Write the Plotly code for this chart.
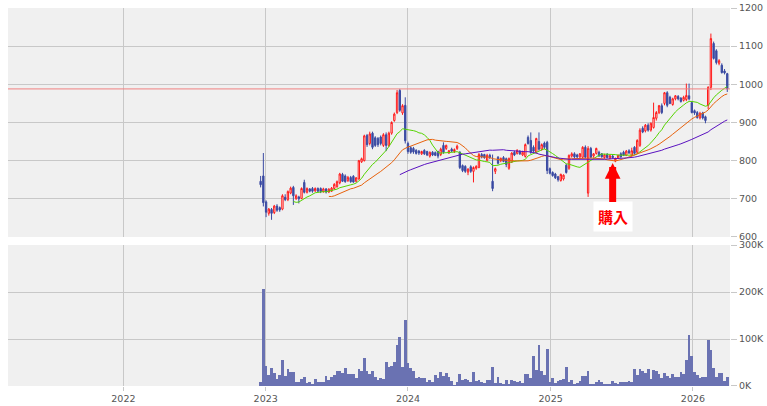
import pandas as pd
import plotly.graph_objects as go
from plotly.subplots import make_subplots

start_date = "2022-12-19"

opens = [
    746, 760, 692, 662, 672, 664, 681, 677, 673, 704,
    698, 715, 730, 701, 705, 701, 743, 717, 726, 727,
    721, 727, 727, 719, 726, 718, 720, 727, 732, 742,
    764, 760, 748, 756, 759, 746, 752, 797, 800, 866,
    845, 872, 860, 858, 862, 840, 868, 840, 872, 905,
    926, 984, 925, 945, 845, 834, 832, 827, 825, 818,
    827, 824, 812, 822, 821, 824, 816, 840, 832, 820,
    830, 824, 832, 822, 787, 785, 770, 784, 772, 780,
    782, 816, 816, 801, 814, 746, 772, 809, 800, 808,
    805, 780, 796, 822, 819, 824, 815, 811, 861, 853,
    835, 822, 850, 830, 846, 848, 779, 769, 765, 758,
    748, 752, 788, 780, 812, 818, 815, 810, 809, 835,
    715, 832, 812, 819, 822, 818, 808, 816, 806, 812,
    799, 806, 818, 822, 814, 826, 814, 835, 822, 840,
    885, 878, 893, 880, 887, 911, 926, 944, 950, 978,
    966, 947, 962, 968, 964, 958, 960, 970, 952, 931,
    926, 912, 925, 915, 945, 992, 1107, 1088, 1055, 1050,
    1035, 1028,
]
highs = [
    760, 820, 696, 676, 676, 684, 686, 680, 712, 712,
    722, 732, 734, 712, 708, 730, 750, 730, 728, 731,
    730, 730, 730, 729, 728, 728, 731, 741, 748, 768,
    768, 764, 760, 760, 762, 757, 802, 808, 868, 870,
    876, 876, 864, 862, 866, 872, 874, 876, 903, 926,
    985, 988, 948, 966, 850, 838, 836, 830, 828, 826,
    830, 826, 824, 825, 824, 826, 834, 848, 842, 828,
    834, 832, 842, 825, 790, 788, 780, 788, 785, 788,
    820, 820, 818, 818, 818, 816, 782, 812, 808, 812,
    808, 808, 822, 826, 830, 828, 826, 845, 866, 874,
    840, 860, 874, 845, 850, 852, 782, 772, 768, 760,
    766, 764, 792, 816, 822, 822, 818, 820, 838, 840,
    838, 836, 820, 834, 826, 820, 818, 820, 816, 815,
    808, 816, 822, 826, 828, 830, 834, 838, 856, 885,
    890, 896, 898, 900, 952, 930, 946, 950, 980, 982,
    970, 965, 972, 972, 966, 970, 1002, 1002, 956, 934,
    930, 928, 928, 918, 995, 1133, 1112, 1092, 1066, 1055,
    1040, 1030,
]
lows = [
    730, 680, 652, 656, 645, 660, 666, 666, 670, 694,
    694, 712, 684, 697, 688, 699, 714, 714, 717, 716,
    718, 717, 715, 716, 714, 715, 718, 724, 729, 738,
    744, 742, 744, 742, 742, 743, 750, 794, 798, 836,
    840, 830, 836, 836, 840, 836, 825, 836, 868, 902,
    922, 928, 920, 845, 818, 818, 818, 816, 815, 815,
    815, 812, 808, 812, 812, 806, 812, 818, 828, 818,
    822, 820, 828, 778, 770, 768, 762, 768, 743, 776,
    780, 806, 805, 798, 804, 720, 765, 790, 796, 796,
    783, 776, 794, 812, 816, 815, 812, 808, 842, 818,
    822, 818, 826, 826, 830, 765, 764, 758, 752, 745,
    745, 748, 766, 776, 808, 806, 806, 806, 806, 806,
    705, 806, 808, 816, 810, 808, 805, 806, 804, 805,
    796, 804, 808, 812, 812, 818, 810, 816, 818, 836,
    872, 874, 876, 876, 884, 905, 922, 922, 945, 940,
    948, 944, 958, 958, 952, 955, 956, 958, 924, 920,
    910, 908, 908, 898, 935, 985, 1065, 1052, 1050, 1028,
    1026, 980,
]
closes = [
    737, 690, 665, 673, 662, 681, 670, 671, 708, 698,
    719, 728, 708, 708, 700, 727, 717, 727, 720, 720,
    727, 720, 719, 726, 718, 725, 728, 738, 745, 765,
    746, 745, 756, 745, 744, 755, 800, 805, 865, 842,
    870, 835, 840, 842, 845, 868, 840, 872, 900, 922,
    978, 932, 944, 852, 824, 822, 823, 819, 820, 824,
    818, 815, 822, 815, 814, 812, 830, 822, 840, 826,
    825, 829, 838, 782, 774, 772, 778, 772, 782, 785,
    816, 810, 808, 814, 808, 727, 779, 793, 806, 798,
    790, 806, 820, 815, 827, 818, 822, 842, 845, 822,
    825, 858, 830, 842, 835, 774, 767, 761, 755, 750,
    764, 762, 769, 814, 818, 810, 810, 818, 835, 809,
    832, 809, 818, 832, 812, 810, 815, 808, 813, 808,
    806, 814, 810, 814, 825, 820, 826, 819, 853, 880,
    875, 893, 880, 898, 913, 926, 944, 926, 978, 945,
    950, 962, 970, 962, 955, 966, 971, 962, 926, 925,
    913, 924, 912, 905, 992, 1120, 1068, 1057, 1062, 1031,
    1030, 988,
]
# weekly volume, in thousands of shares
volumes_k = [
    9, 207, 43, 23, 39, 28, 15, 23, 56, 22,
    36, 30, 30, 9, 9, 15, 20, 7, 9, 4,
    15, 9, 9, 9, 21, 13, 20, 23, 31, 32,
    27, 39, 26, 26, 26, 18, 36, 32, 60, 32,
    26, 32, 20, 13, 18, 15, 52, 40, 43, 51,
    88, 105, 41, 140, 49, 39, 32, 18, 20, 16,
    18, 9, 13, 9, 23, 16, 30, 21, 28, 20,
    11, 2, 9, 26, 13, 15, 13, 9, 30, 11,
    13, 9, 7, 13, 13, 41, 7,
    20, 6, 4, 13, 4, 13, 11, 9, 11, 7,
    26, 26, 18, 63, 34, 88, 32, 23, 79, 9,
    18, 7, 11, 13, 14, 41, 9, 13, 4, 7,
    11, 21, 21, 32, 4, 4, 9, 13, 9, 4,
    4, 4, 11, 7, 4, 9, 9, 9, 11, 9,
    36, 24, 36, 32, 28, 36, 15, 34, 32, 26,
    18, 28, 21, 16, 26, 20, 20, 30, 26, 56,
    109, 63, 30, 23, 18, 20, 20, 98, 77, 39,
    20, 28, 28, 11, 20,
]

price_ticks = [600, 700, 800, 900, 1000, 1100, 1200]
volume_ticks = [0, 100, 200, 300]
volume_tick_labels = ["0K", "100K", "200K", "300K"]
ma_windows = [13, 26, 52]
ma_colors = ["#55d400", "#e8620c", "#5a12c0"]
buy_label = "購入"
buy_date = "2025-06-09"
buy_price = 794

n = len(closes)
assert len(opens) == n and len(highs) == n and len(lows) == n and len(volumes_k) == n

dates = pd.date_range(start_date, periods=n, freq="7D")
close_s = pd.Series(closes, index=dates)

fig = make_subplots(rows=2, cols=1, shared_xaxes=True, vertical_spacing=0.02)

fig.add_trace(go.Candlestick(
    x=dates, open=opens, high=highs, low=lows, close=closes,
    increasing=dict(line=dict(color="#ff1a1a", width=1), fillcolor="#ffffff"),
    decreasing=dict(line=dict(color="#3a4aa2", width=1), fillcolor="#3a4aa2"),
    whiskerwidth=0, showlegend=False, hoverinfo="skip",
), row=1, col=1)

for w, c in zip(ma_windows, ma_colors):
    ma = close_s.rolling(w).mean()
    fig.add_trace(go.Scatter(
        x=dates, y=ma, mode="lines", line=dict(color=c, width=1),
        showlegend=False, hoverinfo="skip",
    ), row=1, col=1)

fig.add_trace(go.Bar(
    x=dates, y=volumes_k, marker=dict(color="#6a72b2", line=dict(width=0)),
    showlegend=False, hoverinfo="skip",
), row=2, col=1)

grid = "#c8c8c8"
tickfont = dict(family="DejaVu Sans", size=9.5, color="#555555")
xrange = ["2021-03-11", "2026-04-06"]

fig.update_layout(
    width=767, height=406,
    margin=dict(l=8, r=37, t=8, b=20, autoexpand=False),
    paper_bgcolor="#ffffff", plot_bgcolor="#f0f0f0",
    bargap=0, showlegend=False,
    font=tickfont,
    xaxis=dict(range=xrange, rangeslider=dict(visible=False), showticklabels=False,
               ticks="", showgrid=True, gridcolor=grid, gridwidth=1, automargin=False,
               tick0="2022-01-01", dtick="M12", zeroline=False, showline=False),
    xaxis2=dict(range=xrange, rangeslider=dict(visible=False), showticklabels=True,
                ticks="outside", ticklen=4, tickcolor=grid, tickformat="%Y",
                tick0="2022-01-01", dtick="M12", showgrid=True, gridcolor=grid,
                gridwidth=1, zeroline=False, showline=False, tickfont=tickfont,
                automargin=False),
    yaxis=dict(domain=[0.3942, 1.0], range=[600, 1200], side="right",
               tickvals=price_ticks, ticks="outside", ticklen=6, tickcolor=grid,
               showgrid=True, gridcolor=grid, gridwidth=1, zeroline=False,
               showline=False, tickfont=tickfont, automargin=False),
    yaxis2=dict(domain=[0.0, 0.373], range=[0, 300], side="right",
                tickvals=volume_ticks, ticktext=volume_tick_labels,
                ticks="outside", ticklen=6, tickcolor=grid, showgrid=True,
                gridcolor=grid, gridwidth=1, zeroline=False, showline=False,
                tickfont=tickfont, automargin=False),
)

# current price line
fig.add_shape(type="line", xref="paper", x0=0, x1=1, yref="y",
              y0=closes[-1], y1=closes[-1], line=dict(color="#f08080", width=1))

fig.add_annotation(
    x=buy_date, y=buy_price, xref="x", yref="y",
    text="<b>" + buy_label + "</b>",
    font=dict(family="Noto Sans CJK JP", size=15, color="#ff0000"),
    bgcolor="#ffffff", borderpad=4,
    showarrow=True, arrowhead=2, arrowsize=0.45, arrowwidth=7,
    arrowcolor="#ff0000", ax=0, ay=54,
)

fig.write_html("out.html", config={"displayModeBar": False},
               post_script="document.body.style.margin='0px';")
